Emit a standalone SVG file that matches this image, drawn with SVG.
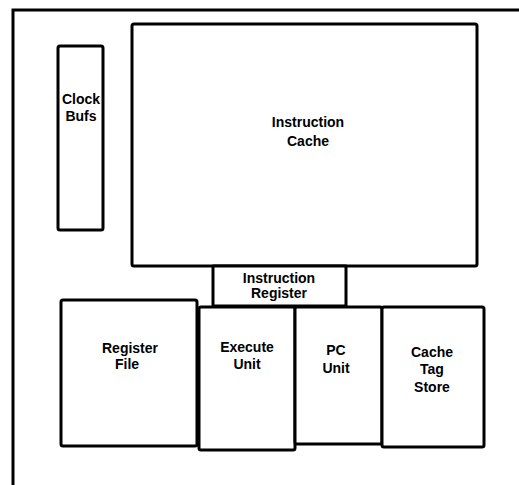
<svg xmlns="http://www.w3.org/2000/svg" width="519" height="485" viewBox="0 0 519 485">
<style>
.box{fill:#fff;stroke:#000;stroke-width:3;stroke-linejoin:round}
.lbl{font-family:"Liberation Sans",Arial,sans-serif;font-weight:bold;font-size:14px;text-anchor:middle;fill:#000}
</style>
<rect width="519" height="485" fill="#fff"/>
<g id="frame"><path d="M13,485 V10 H519" fill="none" stroke="#000" stroke-width="3"/></g>
<g id="clock-bufs"><rect class="box" x="58" y="46" width="45" height="184" rx="2"/>
<text class="lbl" x="81" y="104">Clock</text><text class="lbl" x="81" y="121">Bufs</text></g>
<g id="instruction-cache"><rect class="box" x="132" y="24" width="345" height="242" rx="2"/>
<text class="lbl" x="308" y="127">Instruction</text><text class="lbl" x="308" y="146">Cache</text></g>
<g id="instruction-register"><rect class="box" x="213" y="266" width="133" height="40"/>
<text class="lbl" x="279" y="283">Instruction</text><text class="lbl" x="279" y="298">Register</text></g>
<g id="register-file"><rect class="box" x="61" y="300" width="136" height="146" rx="2"/>
<text class="lbl" x="130" y="353">Register</text><text class="lbl" x="127" y="369">File</text></g>
<g id="execute-unit"><rect class="box" x="199" y="307" width="96" height="143" rx="2"/>
<text class="lbl" x="247" y="352">Execute</text><text class="lbl" x="247" y="369">Unit</text></g>
<g id="pc-unit"><rect class="box" x="295" y="307" width="87" height="137" rx="2"/>
<text class="lbl" x="336" y="355">PC</text><text class="lbl" x="336" y="373">Unit</text></g>
<g id="cache-tag-store"><rect class="box" x="382" y="307" width="102" height="140" rx="2"/>
<text class="lbl" x="432" y="357">Cache</text><text class="lbl" x="432" y="374">Tag</text><text class="lbl" x="432" y="392">Store</text></g>
<g id="connectors"></g>
</svg>
